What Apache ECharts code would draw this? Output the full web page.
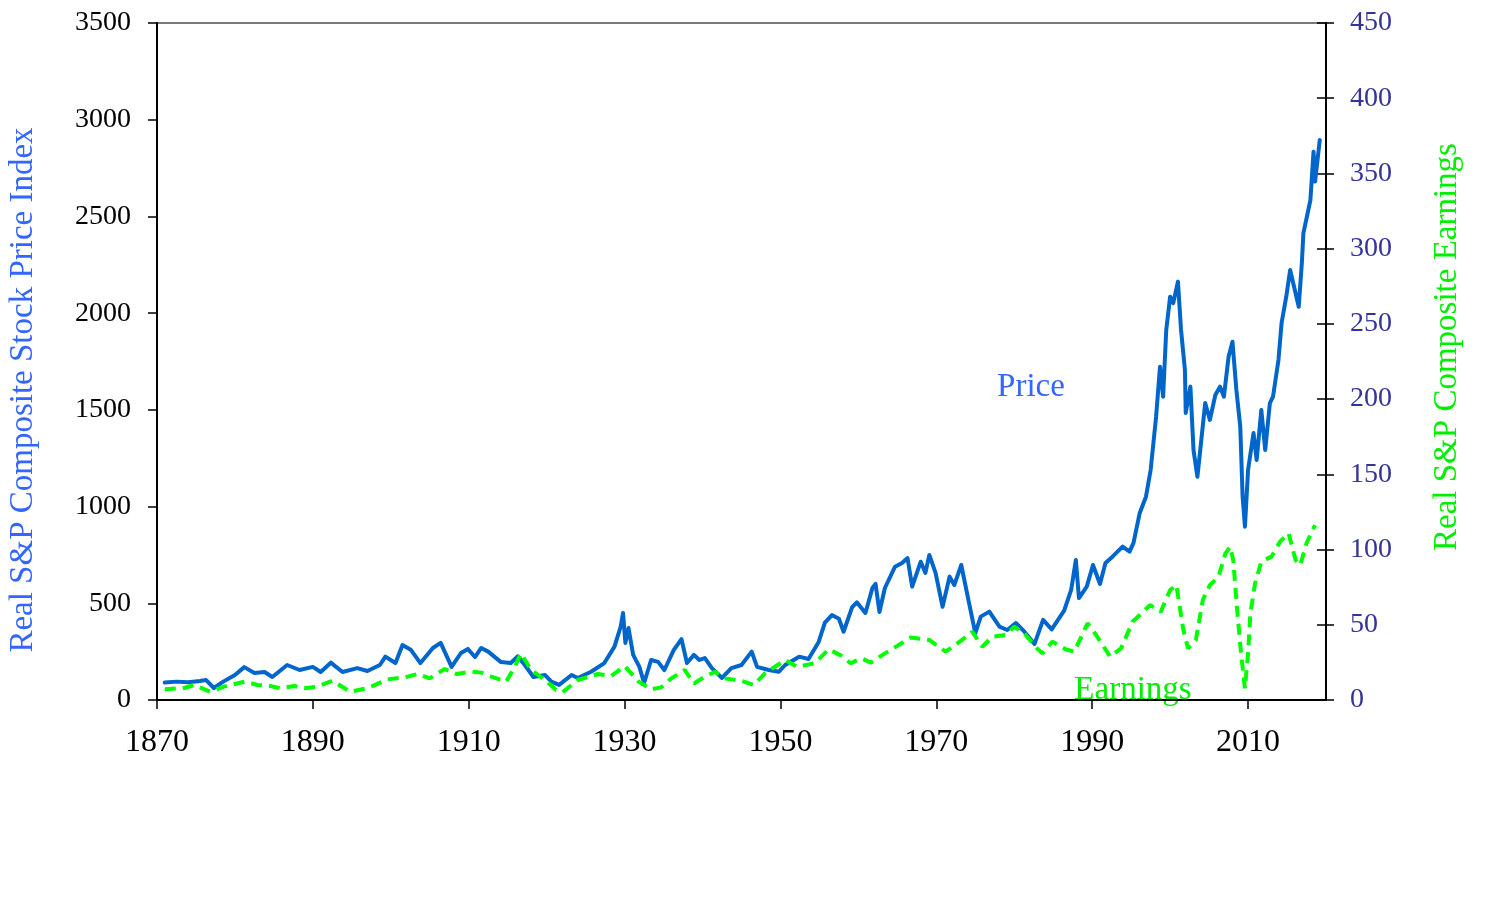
<!DOCTYPE html>
<html>
<head>
<meta charset="utf-8">
<script src="https://cdn.jsdelivr.net/npm/echarts@6/dist/echarts.min.js"></script>
<style>
html,body{margin:0;padding:0;background:#fff;}
#chart{width:1508px;height:918px;}
</style>
</head>
<body>
<div id="chart"></div>
<script>
const xTicks = [1870, 1890, 1910, 1930, 1950, 1970, 1990, 2010];
const leftTicks = [0, 500, 1000, 1500, 2000, 2500, 3000, 3500];
const rightTicks = [0, 50, 100, 150, 200, 250, 300, 350, 400, 450];

const priceYears = [1871.0,1872.5,1874.0,1875.5,1876.3,1877.3,1878.5,1880.0,1881.2,1882.5,1883.8,1884.8,1886.7,1888.3,1890.0,1891.0,1892.3,1893.8,1895.7,1897.0,1898.6,1899.3,1900.6,1901.5,1902.6,1903.8,1905.4,1906.4,1907.8,1909.0,1909.9,1910.8,1911.6,1912.5,1914.1,1915.4,1916.3,1917.2,1918.3,1919.8,1920.6,1921.6,1923.2,1924.0,1925.7,1927.4,1928.7,1929.5,1929.8,1930.1,1930.5,1931.1,1931.9,1932.5,1933.4,1934.3,1935.1,1936.3,1937.3,1938.0,1938.9,1939.6,1940.3,1941.2,1942.5,1943.7,1945.0,1946.3,1947.0,1948.5,1949.8,1950.6,1952.4,1953.6,1954.9,1955.7,1956.6,1957.5,1958.1,1959.2,1959.8,1960.9,1961.8,1962.2,1962.7,1963.4,1964.7,1965.6,1966.3,1966.9,1968.0,1968.6,1969.1,1969.9,1970.8,1971.7,1972.3,1973.2,1974.2,1975.0,1975.7,1976.8,1978.1,1979.1,1980.2,1981.3,1982.6,1983.7,1984.8,1986.4,1987.3,1987.9,1988.3,1989.3,1990.1,1991.0,1991.7,1992.6,1993.9,1994.8,1995.3,1996.1,1996.9,1997.5,1998.2,1998.7,1999.1,1999.5,2000.0,2000.4,2001.0,2001.4,2001.9,2002.0,2002.6,2003.0,2003.5,2004.0,2004.5,2005.1,2005.8,2006.4,2006.9,2007.5,2008.0,2008.5,2009.0,2009.3,2009.6,2010.0,2010.7,2011.1,2011.7,2012.2,2012.8,2013.2,2013.9,2014.3,2014.9,2015.4,2015.6,2016.5,2016.9,2017.1,2018.0,2018.4,2018.6,2019.2];
const priceValues = [90,95,92,98,103,62,95,129,170,140,145,119,181,155,171,145,193,145,165,150,181,224,191,284,258,191,269,295,171,243,264,222,269,250,197,191,226,181,119,129,95,78,129,114,146,191,276,380,450,295,372,233,171,88,207,197,155,258,315,191,233,207,217,165,114,165,181,250,171,155,146,181,224,212,300,400,439,420,353,480,505,450,579,600,455,579,689,708,734,586,715,657,750,657,482,638,594,698,501,346,431,457,379,362,398,353,290,414,365,462,569,724,527,586,698,600,708,741,793,767,812,967,1051,1189,1465,1723,1568,1913,2085,2052,2163,1913,1706,1484,1620,1292,1154,1344,1535,1448,1577,1620,1568,1775,1852,1603,1413,1051,896,1189,1380,1241,1499,1292,1535,1568,1758,1949,2085,2223,2233,2033,2259,2414,2585,2835,2680,2895];

const earnYears = [1871.0,1873.5,1874.8,1876.8,1878.6,1881.3,1882.9,1884.5,1885.8,1887.6,1888.9,1890.6,1892.5,1894.8,1897.0,1899.6,1901.8,1903.5,1905.0,1906.9,1908.4,1910.3,1911.6,1912.9,1914.8,1915.9,1916.7,1918.0,1919.8,1921.2,1922.0,1924.0,1926.6,1928.3,1930.0,1931.8,1933.4,1934.7,1936.0,1937.7,1938.9,1940.3,1941.6,1942.8,1945.0,1946.6,1948.0,1950.6,1952.1,1954.4,1956.2,1957.9,1959.0,1960.4,1961.6,1963.4,1965.0,1966.7,1969.1,1971.2,1973.3,1974.6,1975.9,1977.2,1978.9,1980.0,1981.3,1982.7,1983.6,1984.9,1986.6,1987.7,1989.4,1990.5,1992.3,1993.7,1995.2,1996.1,1997.4,1998.8,2000.0,2000.8,2001.7,2002.3,2003.3,2004.2,2005.1,2006.2,2007.1,2007.7,2008.1,2008.6,2009.1,2009.6,2010.0,2010.3,2010.9,2011.7,2013.0,2014.1,2015.2,2016.1,2016.7,2017.5,2018.6];
const earnValues = [7.1,8,10,5.5,8.9,12.2,10,9.3,7.8,9.3,7.8,8.9,12.8,5.5,7.8,13.7,15.1,17.3,14.4,20.6,17.3,18.8,18.2,15.5,12.2,22,31,20,13.3,6.6,5,13.3,17.3,16,22.6,12.2,7.1,8.4,14.4,20,11,15.5,18.8,14.4,12.8,10,17.7,26.6,22.1,24.4,33.7,29.2,24.4,27.7,24.8,31,36,41.5,39.9,32.1,39.9,45.4,35.4,42.1,43.2,48.7,44.3,35.4,31,38.8,33.7,32.1,51,43.2,28.8,34.3,52.1,56.5,63.1,58.7,73.1,76.4,46.5,34.3,39.9,66.5,76.4,82,97.5,101.9,93,59.8,31,7.8,31,57.6,77.6,91.9,95.3,105.2,110.8,93,89.7,104.2,116.3];

const FONT = '"Liberation Serif", "Times New Roman", serif';
const priceData = priceYears.map((y, i) => [y, priceValues[i]]);
const earnData = earnYears.map((y, i) => [y, earnValues[i]]);

const chart = echarts.init(document.getElementById('chart'));
chart.setOption({
  animation: false,
  backgroundColor: '#fff',
  grid: { left: 157, right: 182, top: 23, bottom: 218, show: true, borderColor: '#7a7a7a', borderWidth: 2, backgroundColor: 'transparent' },
  xAxis: {
    type: 'value', min: xTicks[0], max: 2020, interval: 20,
    axisLine: { lineStyle: { color: '#000', width: 2 } },
    axisTick: { length: 9, lineStyle: { color: '#000', width: 1.5 } },
    axisLabel: { color: '#000', fontSize: 32, fontFamily: FONT, margin: 27, showMaxLabel: false,
      formatter: v => (xTicks.indexOf(v) >= 0 ? String(v) : '') },
    splitLine: { show: false }
  },
  yAxis: [
    {
      type: 'value', position: 'left', min: leftTicks[0], max: leftTicks[leftTicks.length - 1], interval: 500,
      axisLine: { show: true, lineStyle: { color: '#000', width: 2 } },
      axisTick: { show: true, length: 9, lineStyle: { color: '#000', width: 1.5 } },
      axisLabel: { color: '#000', fontSize: 28, fontFamily: FONT, margin: 26, formatter: v => String(v) },
      splitLine: { show: false }
    },
    {
      type: 'value', position: 'right', min: rightTicks[0], max: rightTicks[rightTicks.length - 1], interval: 50,
      axisLine: { show: true, lineStyle: { color: '#000', width: 2 } },
      axisTick: { show: true, length: 8, lineStyle: { color: '#000', width: 1.5 } },
      axisLabel: { color: '#333399', fontSize: 28, fontFamily: FONT, margin: 24, formatter: v => String(v) },
      splitLine: { show: false }
    },
    {
      type: 'value', position: 'right', min: rightTicks[0], max: rightTicks[rightTicks.length - 1], interval: 50,
      axisLine: { show: false },
      axisTick: { show: true, inside: true, length: 9, lineStyle: { color: '#000', width: 1.5 } },
      axisLabel: { show: false },
      splitLine: { show: false }
    }
  ],
  series: [
    {
      name: 'Price', type: 'line', yAxisIndex: 0, data: priceData, showSymbol: false,
      lineStyle: { color: '#0066CC', width: 4, join: 'round', cap: 'round' }, z: 3
    },
    {
      name: 'Earnings', type: 'line', yAxisIndex: 1, data: earnData, showSymbol: false,
      lineStyle: { color: '#00FF00', width: 4, type: [11, 7] }, z: 4
    }
  ],
  graphic: [
    { type: 'text', x: 23, y: 390, rotation: Math.PI / 2,
      style: { text: 'Real S&P Composite Stock Price Index', fill: '#3366FF', font: '33px ' + FONT, align: 'center', verticalAlign: 'middle' } },
    { type: 'text', x: 1447, y: 347, rotation: Math.PI / 2,
      style: { text: 'Real S&P Composite Earnings', fill: '#00EE00', font: '33px ' + FONT, align: 'center', verticalAlign: 'middle' } },
    { type: 'text', x: 1031, y: 387,
      style: { text: 'Price', fill: '#3366FF', font: '33px ' + FONT, align: 'center', verticalAlign: 'middle' } },
    { type: 'text', x: 1133, y: 690,
      style: { text: 'Earnings', fill: '#00EE00', font: '33px ' + FONT, align: 'center', verticalAlign: 'middle' } }
  ]
});
</script>
</body>
</html>
